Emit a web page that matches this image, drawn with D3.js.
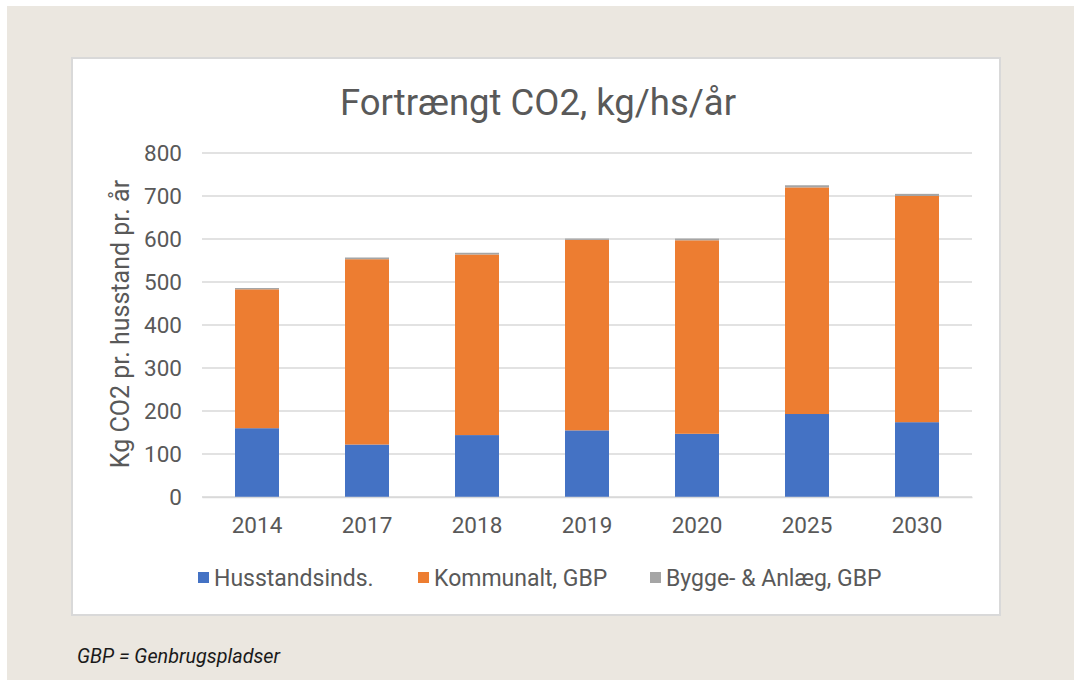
<!DOCTYPE html>
<html>
<head>
<meta charset="utf-8">
<script src="https://cdn.jsdelivr.net/npm/d3@7"></script>
<style>
  html, body { margin: 0; padding: 0; background: #fff; }
  svg { display: block; font-family: Roboto, "Noto Sans", sans-serif; }
</style>
</head>
<body>
<div id="chart"></div>
<script>
// Data
const years = ["2014", "2017", "2018", "2019", "2020", "2025", "2030"];
const husstand = [160, 122, 144, 155, 147, 193, 174];
const kommunal = [323, 431, 420, 443, 450, 527, 526];
const bygge = [3, 4, 4, 3, 4, 5, 5];
const seriesNames = ["Husstandsinds.", "Kommunalt, GBP", "Bygge- & Anlæg, GBP"];
const seriesColors = ["#4472c4", "#ed7d31", "#a5a5a5"];
const yTicks = [0, 100, 200, 300, 400, 500, 600, 700, 800];

const W = 1074, H = 680;
const svg = d3.select("#chart").append("svg")
    .attr("width", W).attr("height", H);

// page background
svg.append("rect").attr("x", 7).attr("y", 6).attr("width", W - 7).attr("height", H - 6)
    .attr("fill", "#ebe7e0");

// chart box
svg.append("rect").attr("x", 72).attr("y", 58).attr("width", 928).attr("height", 557)
    .attr("fill", "#fff").attr("stroke", "#d9d9d9").attr("stroke-width", 2);

const plot = { left: 202, right: 972, top: 153, bottom: 497 };

const x = d3.scaleBand().domain(years).range([plot.left, plot.right]).paddingInner(0.6).paddingOuter(0.3);
const y = d3.scaleLinear().domain([0, 800]).range([plot.bottom, plot.top]);

// gridlines
svg.append("g").selectAll("line").data(yTicks).join("line")
    .attr("x1", plot.left).attr("x2", plot.right)
    .attr("y1", d => y(d)).attr("y2", d => y(d))
    .attr("stroke", "#d9d9d9").attr("stroke-width", 1.3);

// stacked bars
const table = years.map((yr, i) => ({ year: yr, a: husstand[i], b: kommunal[i], c: bygge[i] }));
const stack = d3.stack().keys(["a", "b", "c"])(table);

svg.append("g").selectAll("g").data(stack).join("g")
    .attr("fill", (d, i) => seriesColors[i])
    .selectAll("rect").data(d => d).join("rect")
    .attr("x", d => x(d.data.year))
    .attr("width", x.bandwidth())
    .attr("y", d => y(d[1]))
    .attr("height", d => y(d[0]) - y(d[1]));

// axes
const yAxis = svg.append("g").attr("transform", `translate(${plot.left - 20},0)`)
    .call(d3.axisLeft(y).tickValues(yTicks).tickSize(0).tickPadding(0));
yAxis.select(".domain").remove();
yAxis.selectAll("text").attr("font-size", 22.5).attr("fill", "#595959")
    .attr("font-family", "Roboto, sans-serif");

const xAxis = svg.append("g").attr("transform", `translate(0,${plot.bottom})`)
    .call(d3.axisBottom(x).tickSize(0).tickPadding(20));
xAxis.select(".domain").attr("stroke", "#d9d9d9").attr("stroke-width", 1.3);
xAxis.selectAll("text").attr("font-size", 22.5).attr("fill", "#595959")
    .attr("font-family", "Roboto, sans-serif");

// title
svg.append("text").attr("x", 538).attr("y", 115).attr("text-anchor", "middle")
    .attr("font-size", 36.5).attr("fill", "#595959").text("Fortrængt CO2, kg/hs/år");

// y title
svg.append("text").attr("transform", `translate(129,${(plot.top + plot.bottom) / 2 - 1}) rotate(-90)`)
    .attr("text-anchor", "middle").attr("font-size", 25).attr("fill", "#595959")
    .text("Kg CO2 pr. husstand pr. år");

// legend
const legendX = [198, 418, 650];
const legend = svg.append("g").selectAll("g").data(seriesNames).join("g")
    .attr("transform", (d, i) => `translate(${legendX[i]},578)`);
legend.append("rect").attr("x", 0).attr("y", -6).attr("width", 11).attr("height", 11)
    .attr("fill", (d, i) => seriesColors[i]);
legend.append("text").attr("x", 16).attr("y", 8).attr("font-size", 23)
    .attr("fill", "#595959").text(d => d);

// caption
svg.append("text").attr("x", 77).attr("y", 663).attr("font-size", 19.8)
    .attr("font-style", "italic").attr("fill", "#1a1a1a").text("GBP = Genbrugspladser");
</script>
</body>
</html>
